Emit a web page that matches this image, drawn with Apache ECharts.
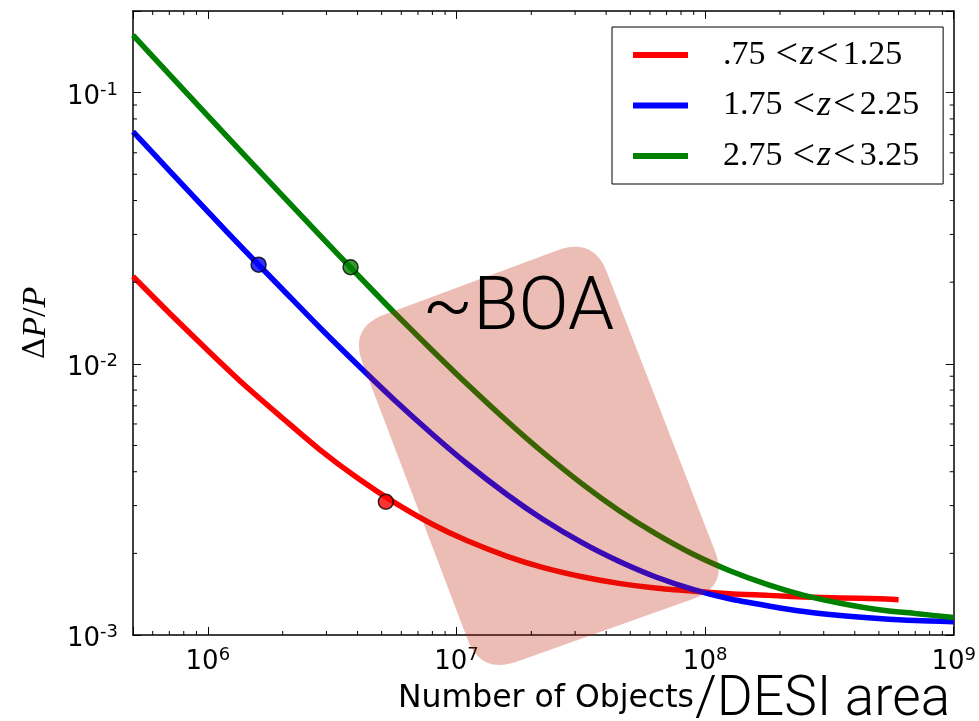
<!DOCTYPE html>
<html><head><meta charset="utf-8">
<script src="https://cdn.jsdelivr.net/npm/echarts@6/dist/echarts.min.js"></script>
<style>html,body{margin:0;padding:0;background:#fff}#c{width:979px;height:721px}</style>
</head><body><div id="c"></div>
<script>
// ---- data ----
const seriesNames = ['.75<z<1.25', '1.75<z<2.25', '2.75<z<3.25'];
const seriesColors = ['#ff0000', '#0000ff', '#008000'];

const redN  = [5e5, 7e5, 1e6, 1.4e6, 2e6, 2.8e6, 4e6, 5.6e6, 8e6, 1.1e7, 1.6e7, 2.2e7, 3.2e7, 4.5e7, 6.3e7, 9e7, 1.25e8, 1.8e8, 2.5e8, 3.5e8, 5e8, 6e8];
const redDP = [0.0210, 0.0154, 0.0112, 0.00837, 0.0063, 0.00485, 0.00379, 0.00309, 0.00256, 0.00223, 0.00195, 0.00178, 0.00164, 0.00155, 0.00149, 0.00145, 0.00142, 0.00140, 0.00138, 0.00137, 0.00136, 0.00135];

const blueN  = [5e5, 7e5, 1e6, 1.4e6, 2e6, 2.8e6, 4e6, 5.6e6, 8e6, 1.1e7, 1.6e7, 2.2e7, 3.2e7, 4.5e7, 6.3e7, 9e7, 1.25e8, 1.8e8, 2.5e8, 3.5e8, 5e8, 7e8, 1e9];
const blueDP = [0.0718, 0.0516, 0.0364, 0.0263, 0.0188, 0.0137, 0.00992, 0.00739, 0.00550, 0.00429, 0.00329, 0.00269, 0.00219, 0.00187, 0.00164, 0.00147, 0.00136, 0.00128, 0.00122, 0.00118, 0.00115, 0.00113, 0.00112];

const greenN  = [5e5, 7e5, 1e6, 1.4e6, 2e6, 2.8e6, 4e6, 5.6e6, 8e6, 1.1e7, 1.6e7, 2.2e7, 3.2e7, 4.5e7, 6.3e7, 9e7, 1.25e8, 1.8e8, 2.5e8, 3.5e8, 5e8, 7e8, 1e9];
const greenDP = [0.163, 0.1168, 0.0821, 0.0589, 0.0416, 0.0300, 0.0213, 0.0155, 0.0112, 0.00844, 0.00614, 0.00476, 0.00361, 0.00288, 0.00237, 0.00198, 0.00173, 0.00153, 0.00140, 0.00131, 0.00124, 0.00120, 0.00116];

const dotN  = [5.2e6, 1.6e6, 3.75e6];
const dotDP = [0.0031, 0.0232, 0.0227];

const xMinorTicks = [6e5, 7e5, 8e5, 9e5, 2e6, 3e6, 4e6, 5e6, 6e6, 7e6, 8e6, 9e6, 2e7, 3e7, 4e7, 5e7, 6e7, 7e7, 8e7, 9e7, 2e8, 3e8, 4e8, 5e8, 6e8, 7e8, 8e8, 9e8];
const yMinorTicks = [2e-3, 3e-3, 4e-3, 5e-3, 6e-3, 7e-3, 8e-3, 9e-3, 2e-2, 3e-2, 4e-2, 5e-2, 6e-2, 7e-2, 8e-2, 9e-2];

const boaCorners = [[3.7e6, 0.0136], [3.55e7, 0.02935], [1.244e8, 0.001512], [1.253e7, 0.000716]];
const boaLabelAt = [7.3e6, 0.0157];

const X_MIN = 5e5, X_MAX = 1e9, Y_MIN = 1e-3, Y_MAX = 0.2;

// ---- helpers ----
function powLabel(v) {
  const l = Math.log10(v), e = Math.round(l);
  if (Math.abs(l - e) > 1e-6) return '';
  return '{b|10}{s|' + e + '}';
}
const tickRich = {
  b: { fontFamily: 'DejaVu Sans', fontSize: 26, lineHeight: 32, color: '#000' },
  s: { fontFamily: 'DejaVu Sans', fontSize: 18, lineHeight: 14, verticalAlign: 'top', color: '#000' }
};
function legendText(name) {
  const p = name.split('<');
  return '{g|}{n|' + p[0] + '}{r|<}{i|' + p[1] + '}{q|<}{n|' + p[2] + '}';
}
function roundedPoly(pts, r) {
  const out = [];
  const n = pts.length;
  for (let i = 0; i < n; i++) {
    const P = pts[i], A0 = pts[(i - 1 + n) % n], B0 = pts[(i + 1) % n];
    const da = Math.hypot(A0[0] - P[0], A0[1] - P[1]);
    const db = Math.hypot(B0[0] - P[0], B0[1] - P[1]);
    const A = [P[0] + (A0[0] - P[0]) * r / da, P[1] + (A0[1] - P[1]) * r / da];
    const B = [P[0] + (B0[0] - P[0]) * r / db, P[1] + (B0[1] - P[1]) * r / db];
    for (let k = 0; k <= 16; k++) {
      const t = k / 16, u = 1 - t;
      out.push([u * u * A[0] + 2 * u * t * P[0] + t * t * B[0], u * u * A[1] + 2 * u * t * P[1] + t * t * B[1]]);
    }
  }
  return out;
}
const pair = (xs, ys) => xs.map((x, i) => [x, ys[i]]);

const chart = echarts.init(document.getElementById('c'), null, { renderer: 'canvas' });

const axisCommonX = {
  type: 'log', logBase: 10, min: X_MIN, max: X_MAX, gridIndex: 0,
  axisLine: { show: true, onZero: false, lineStyle: { color: '#000', width: 1.5 } },
  axisTick: { show: true, inside: true, length: 8, lineStyle: { color: '#000', width: 1 } },
  splitLine: { show: false }, minorTick: { show: false }
};
const axisCommonY = {
  type: 'log', logBase: 10, min: Y_MIN, max: Y_MAX, gridIndex: 0,
  axisLine: { show: true, onZero: false, lineStyle: { color: '#000', width: 1.5 } },
  axisTick: { show: true, inside: true, length: 8, lineStyle: { color: '#000', width: 1 } },
  splitLine: { show: false }, minorTick: { show: false }
};
const lineCommon = { type: 'line', showSymbol: false, symbol: 'none', smooth: 0.25, z: 2, silent: true };

const option = {
  backgroundColor: '#fff',
  animation: false,
  grid: { left: 133, top: 11, right: 21, bottom: 86, containLabel: false },
  xAxis: [
    Object.assign({}, axisCommonX, {
      position: 'bottom',
      axisLabel: { formatter: powLabel, rich: tickRich, margin: 11 }
    }),
    Object.assign({}, axisCommonX, { position: 'top', axisLabel: { show: false } })
  ],
  yAxis: [
    Object.assign({}, axisCommonY, {
      position: 'left',
      axisLabel: { formatter: powLabel, rich: tickRich, margin: 15, padding: [9, 0, 0, 0] },
      name: '{d|Δ}{i|P}{n|/}{i|P}',
      nameLocation: 'middle', nameRotate: 90, nameGap: 80,
      nameTextStyle: {
        rich: {
          d: { fontFamily: 'DejaVu Serif', fontSize: 30, color: '#000' },
          i: { fontFamily: 'Liberation Serif', fontStyle: 'italic', fontSize: 34, color: '#000' },
          n: { fontFamily: 'Liberation Serif', fontSize: 34, color: '#000' }
        }
      }
    }),
    Object.assign({}, axisCommonY, { position: 'right', axisLabel: { show: false } })
  ],
  legend: {
    orient: 'vertical', left: 612, top: 27,
    data: seriesNames,
    icon: 'rect', itemWidth: 55, itemHeight: 6, itemGap: 10.5,
    padding: [8, 24, 8, 21],
    borderColor: '#000', borderWidth: 1, borderRadius: 0, backgroundColor: '#fff',
    selectedMode: false,
    formatter: legendText,
    textStyle: {
      rich: {
        g: { width: 30 },
        n: { fontFamily: 'Liberation Serif', fontSize: 34, lineHeight: 34, color: '#000' },
        r: { fontFamily: 'Liberation Serif', fontSize: 40, lineHeight: 34, color: '#000', padding: [0, 2, 0, 10] },
        q: { fontFamily: 'Liberation Serif', fontSize: 40, lineHeight: 34, color: '#000', padding: [0, 4, 0, 2] },
        i: { fontFamily: 'Liberation Serif', fontStyle: 'italic', fontSize: 36, lineHeight: 34, color: '#000' }
      }
    }
  },
  graphic: [
    { type: 'text', x: 398, y: 699, silent: true,
      style: { text: 'Number of Objects', fontFamily: 'DejaVu Sans', fontSize: 31.5, fill: '#000', align: 'left', verticalAlign: 'middle' } },
    { type: 'text', x: 695, y: 701, silent: true,
      style: { text: '/DESI area', fontFamily: 'Roboto', fontWeight: 300, fontSize: 55, fill: '#000', align: 'left', verticalAlign: 'middle' } }
  ],
  series: [
    Object.assign({ name: seriesNames[0], data: pair(redN, redDP), lineStyle: { color: seriesColors[0], width: 5.5 }, itemStyle: { color: seriesColors[0] } }, lineCommon),
    Object.assign({ name: seriesNames[1], data: pair(blueN, blueDP), lineStyle: { color: seriesColors[1], width: 5.5 }, itemStyle: { color: seriesColors[1] } }, lineCommon),
    Object.assign({ name: seriesNames[2], data: pair(greenN, greenDP), lineStyle: { color: seriesColors[2], width: 5.5 }, itemStyle: { color: seriesColors[2] } }, lineCommon),
    { type: 'scatter', symbol: 'circle', symbolSize: 15, z: 3, silent: true,
      data: dotN.map((n, i) => ({ value: [n, dotDP[i]], itemStyle: { color: seriesColors[i], borderColor: '#000', borderWidth: 1.5 } })) },
    { type: 'custom', clip: false, silent: true, z: 4,
      data: [boaLabelAt],
      renderItem: function (params, api) {
        const pts = boaCorners.map(c => api.coord(c));
        const t = api.coord(boaLabelAt);
        return { type: 'group', children: [
          { type: 'polygon', shape: { points: roundedPoly(pts, 38) }, style: { fill: 'rgba(192,35,5,0.3)' } },
          { type: 'text', x: t[0], y: t[1], style: { text: '~BOA', fontFamily: 'Roboto', fontWeight: 300, fontSize: 74, fill: '#000', align: 'left', verticalAlign: 'middle' } }
        ] };
      } },
    { type: 'custom', clip: false, silent: true, z: 6,
      data: xMinorTicks.map(v => [v, Y_MIN]),
      renderItem: function (params, api) {
        const b = api.coord([api.value(0), Y_MIN]);
        const t = api.coord([api.value(0), Y_MAX]);
        return { type: 'group', children: [
          { type: 'line', shape: { x1: b[0], y1: b[1], x2: b[0], y2: b[1] - 4 }, style: { stroke: '#000', lineWidth: 1 } },
          { type: 'line', shape: { x1: t[0], y1: t[1], x2: t[0], y2: t[1] + 4 }, style: { stroke: '#000', lineWidth: 1 } }
        ] };
      } },
    { type: 'custom', clip: false, silent: true, z: 6,
      data: yMinorTicks.map(v => [X_MIN, v]),
      renderItem: function (params, api) {
        const l = api.coord([X_MIN, api.value(1)]);
        const r = api.coord([X_MAX, api.value(1)]);
        return { type: 'group', children: [
          { type: 'line', shape: { x1: l[0], y1: l[1], x2: l[0] + 4, y2: l[1] }, style: { stroke: '#000', lineWidth: 1 } },
          { type: 'line', shape: { x1: r[0], y1: r[1], x2: r[0] - 4, y2: r[1] }, style: { stroke: '#000', lineWidth: 1 } }
        ] };
      } }
  ]
};
chart.setOption(option);
</script>
</body></html>
